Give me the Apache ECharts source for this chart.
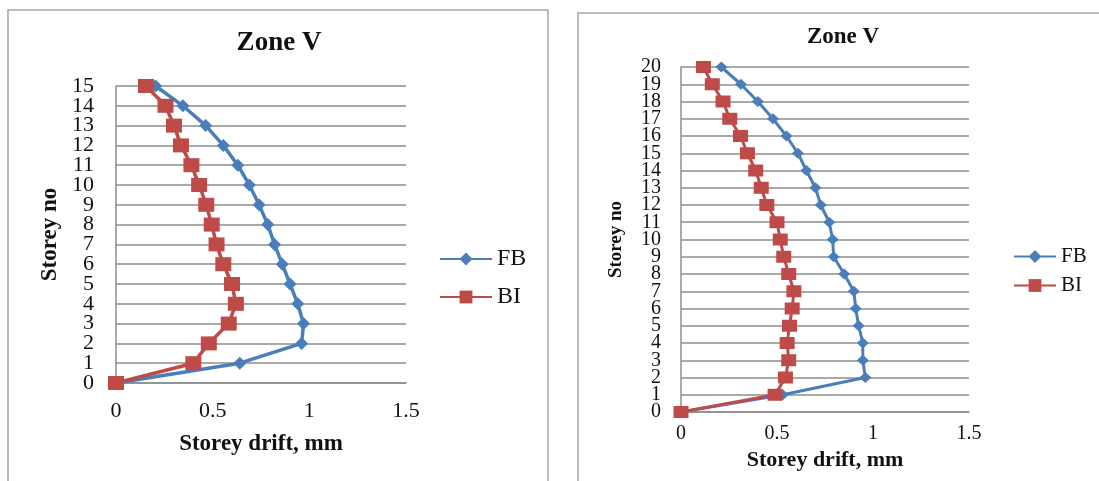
<!DOCTYPE html>
<html><head><meta charset="utf-8">
<script src="https://cdn.jsdelivr.net/npm/echarts@6/dist/echarts.min.js"></script>
<style>html,body{margin:0;padding:0;background:#fff}#c{width:1099px;height:481px}</style>
</head><body><div id="c"></div>
<script>
// Left chart (15 storeys)
const storeysA = [0,1,2,3,4,5,6,7,8,9,10,11,12,13,14,15];
const fbA = [0,0.64,0.96,0.97,0.94,0.90,0.86,0.82,0.785,0.74,0.69,0.63,0.555,0.464,0.346,0.205];
const biA = [0,0.40,0.48,0.583,0.62,0.60,0.555,0.52,0.495,0.467,0.43,0.39,0.336,0.30,0.256,0.155];
// Right chart (20 storeys)
const storeysB = [0,1,2,3,4,5,6,7,8,9,10,11,12,13,14,15,16,17,18,19,20];
const fbB = [0,0.53,0.96,0.947,0.947,0.925,0.91,0.90,0.85,0.795,0.79,0.772,0.728,0.70,0.653,0.609,0.549,0.479,0.40,0.312,0.21];
const biB = [0,0.49,0.544,0.561,0.553,0.565,0.579,0.588,0.561,0.535,0.517,0.50,0.447,0.418,0.389,0.346,0.31,0.254,0.219,0.163,0.117];
const xTicks = [0,0.5,1,1.5];

const BLUE = '#4A7EBB', RED = '#BE4B48', GRID = '#8c8c8c';
const SERIF = 'Liberation Serif, Times New Roman, serif';
const pairs = (ys, xs) => ys.map((y,i)=>[xs[i], i]);

function xAx(gi, fs, margin, nameFs, gap){
  return {gridIndex:gi, type:'value', min:0, max:1.5, interval:0.5,
    name:'Storey drift, mm', nameLocation:'middle', nameGap:gap,
    nameTextStyle:{fontFamily:SERIF, fontWeight:'bold', fontSize:nameFs, color:'#111'},
    axisLine:{show:true, lineStyle:{color:GRID, width:1.5}}, axisTick:{show:false},
    splitLine:{show:false},
    axisLabel:{fontFamily:SERIF, fontSize:fs, color:'#111', margin:margin,
      showMinLabel:true, showMaxLabel:true, hideOverlap:false,
      formatter:v=> xTicks.includes(v) ? String(v) : ''}};
}
function yAx(gi, cats, fs, margin, nameFs, gap){
  return {gridIndex:gi, type:'category', data:cats.map(String), boundaryGap:false,
    name:'Storey no', nameLocation:'middle', nameGap:gap,
    nameTextStyle:{fontFamily:SERIF, fontWeight:'bold', fontSize:nameFs, color:'#111'},
    axisLine:{show:true, lineStyle:{color:GRID, width:1.5}}, axisTick:{show:false},
    splitLine:{show:true, interval:0, lineStyle:{color:GRID, width:1.5}},
    axisLabel:{fontFamily:SERIF, fontSize:fs, color:'#111', margin:margin, interval:0,
      hideOverlap:false}};
}
function legend(name, left, top, w, fs){
  return {data:[name], left:left, top:top, itemWidth:w, itemHeight:16, padding:0,
    selectedMode:false, textStyle:{fontFamily:SERIF, fontSize:fs, color:'#111', lineHeight:16}};
}

const chart = echarts.init(document.getElementById('c'), null, {renderer:'canvas'});
chart.setOption({
  animation:false,
  backgroundColor:'#fff',
  graphic:[
    {type:'rect', shape:{x:8, y:10, width:540, height:480}, style:{fill:'none', stroke:'#a6a6a6', lineWidth:1.5}, z:-10},
    {type:'rect', shape:{x:578, y:13, width:540, height:480}, style:{fill:'none', stroke:'#a6a6a6', lineWidth:1.5}, z:-10},
    {type:'text', x:279, y:43, style:{text:'Zone V', font:'bold 27px '+SERIF, fill:'#111', textAlign:'center', textVerticalAlign:'middle'}},
    {type:'text', x:843, y:37, style:{text:'Zone V', font:'bold 23px '+SERIF, fill:'#111', textAlign:'center', textVerticalAlign:'middle'}}
  ],
  grid:[
    {left:116, top:86, width:290, height:297},
    {left:681, top:67, width:288, height:345}
  ],
  xAxis:[xAx(0, 22, 17, 23, 50), xAx(1, 20, 12, 22, 34)],
  yAxis:[yAx(0, storeysA, 22, 22, 23, 54), yAx(1, storeysB, 20, 20, 19, 55)],
  legend:[
    legend('FB', 439, 247, 52, 24),
    legend('BI', 439, 285, 52, 24),
    legend('FB', 1013, 246, 42, 21),
    legend('BI', 1013, 275, 42, 21)
  ],
  series:[
    {name:'FB', type:'line', xAxisIndex:0, yAxisIndex:0, data:pairs(storeysA, fbA),
     symbol:'diamond', symbolSize:[13,13], lineStyle:{color:BLUE, width:3.5}, itemStyle:{color:BLUE}},
    {name:'BI', type:'line', xAxisIndex:0, yAxisIndex:0, data:pairs(storeysA, biA),
     symbol:'rect', symbolSize:[16,14], lineStyle:{color:RED, width:3.5}, itemStyle:{color:RED}},
    {name:'FB', type:'line', xAxisIndex:1, yAxisIndex:1, data:pairs(storeysB, fbB),
     symbol:'diamond', symbolSize:[12,11], lineStyle:{color:BLUE, width:3}, itemStyle:{color:BLUE}},
    {name:'BI', type:'line', xAxisIndex:1, yAxisIndex:1, data:pairs(storeysB, biB),
     symbol:'rect', symbolSize:[15,12], lineStyle:{color:RED, width:3}, itemStyle:{color:RED}}
  ]
});
</script></body></html>
